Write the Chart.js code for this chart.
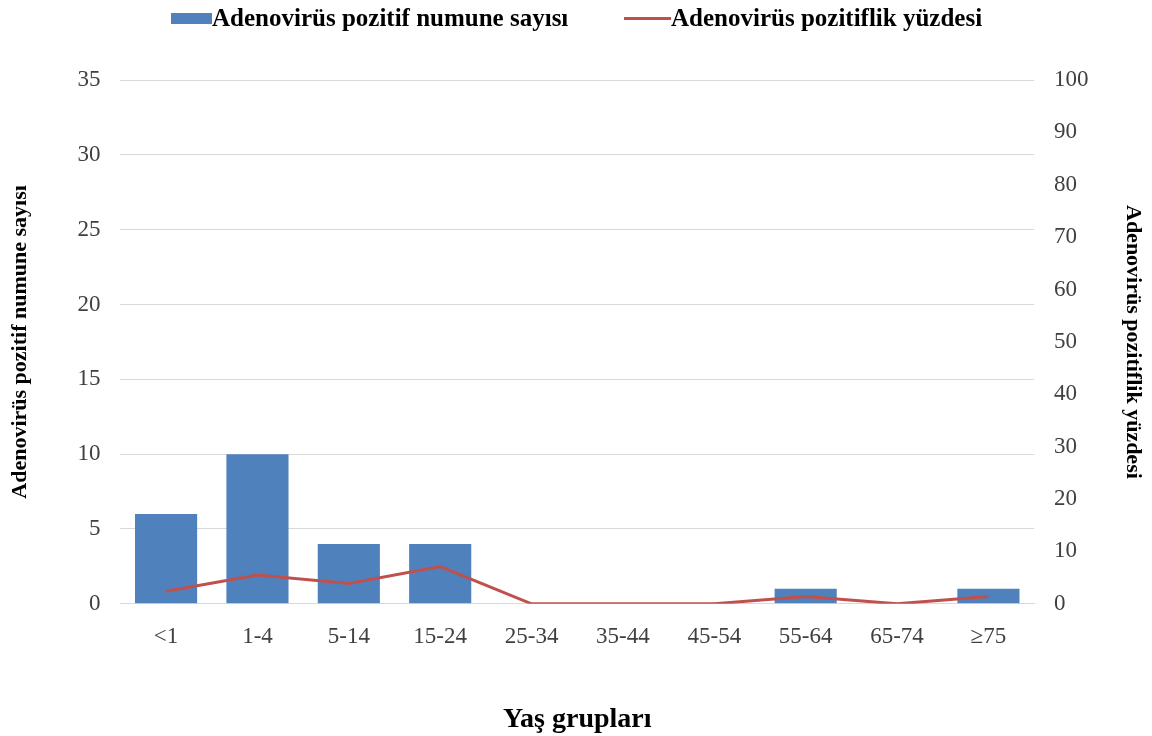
<!DOCTYPE html>
<html>
<head>
<meta charset="utf-8">
<script src="https://cdn.jsdelivr.net/npm/chart.js@4/dist/chart.umd.min.js"></script>
<style>
  body { margin: 0; background: #fff; }
  #wrap { position: relative; width: 1152px; height: 736px; }
  #legend { position: absolute; top: 4px; left: 0; width: 1152px; font: bold 25px "Liberation Serif", serif; color: #000; }
  .item { position: absolute; top: 0; display: flex; align-items: center; white-space: nowrap; }
  .box { display: inline-block; width: 41px; height: 11px; background: #4F81BD; }
  .ln { display: inline-block; width: 47px; height: 3px; background: #C0504D; }
</style>
</head>
<body>
<div id="wrap">
  <canvas id="chart" width="1152" height="736"></canvas>
  <div id="legend">
    <div class="item" style="left:171px"><span class="box"></span><span>Adenovirüs pozitif numune sayısı</span></div>
    <div class="item" style="left:624px"><span class="ln"></span><span>Adenovirüs pozitiflik yüzdesi</span></div>
  </div>
</div>
<script>
const ageGroups = ['<1', '1-4', '5-14', '15-24', '25-34', '35-44', '45-54', '55-64', '65-74', '≥75'];
const positiveCounts = [6, 10, 4, 4, 0, 0, 0, 1, 0, 1];
const positivePercent = [2.4, 5.5, 3.9, 7.1, 0, 0, 0, 1.4, 0, 1.4];

const tickFont = { family: 'Liberation Serif', size: 23 };
const titleFont = { family: 'Liberation Serif', size: 22, weight: 'bold' };

new Chart(document.getElementById('chart'), {
    type: 'bar',
    data: {
        labels: ageGroups,
        datasets: [
            {
                type: 'line',
                label: 'Adenovirüs pozitiflik yüzdesi',
                data: positivePercent,
                yAxisID: 'y2',
                borderColor: '#C0504D',
                borderWidth: 3,
                pointRadius: 0,
                tension: 0,
                order: 0
            },
            {
                label: 'Adenovirüs pozitif numune sayısı',
                data: positiveCounts,
                yAxisID: 'y',
                backgroundColor: '#4F81BD',
                categoryPercentage: 1,
                barPercentage: 0.68,
                order: 1
            }
        ]
    },
    options: {
        responsive: false,
        animation: false,
        layout: { padding: { top: 80, left: 4, right: 4, bottom: 2 } },
        plugins: {
            legend: { display: false },
            tooltip: { enabled: false }
        },
        scales: {
            x: {
                grid: { display: false },
                border: { color: '#d9d9d9' },
                ticks: { font: tickFont, color: '#404040', padding: 11 },
                title: {
                    display: true,
                    text: 'Yaş grupları',
                    font: { family: 'Liberation Serif', size: 28, weight: 'bold' },
                    color: '#000',
                    padding: { top: 42, bottom: -3 }
                }
            },
            y: {
                position: 'left',
                min: 0,
                max: 35,
                ticks: { stepSize: 5, font: tickFont, color: '#404040', padding: 20 },
                grid: { color: '#d9d9d9', drawTicks: false },
                border: { display: false },
                title: {
                    display: true,
                    text: 'Adenovirüs pozitif numune sayısı',
                    font: titleFont,
                    color: '#000',
                    padding: { top: 3, bottom: 24 }
                }
            },
            y2: {
                position: 'right',
                min: 0,
                max: 100,
                ticks: { stepSize: 10, font: tickFont, color: '#404040', padding: 20 },
                grid: { drawOnChartArea: false, drawTicks: false },
                border: { display: false },
                title: {
                    display: true,
                    text: 'Adenovirüs pozitiflik yüzdesi',
                    font: titleFont,
                    color: '#000',
                    padding: { top: 2, bottom: 11 }
                }
            }
        }
    }
});
</script>
</body>
</html>
